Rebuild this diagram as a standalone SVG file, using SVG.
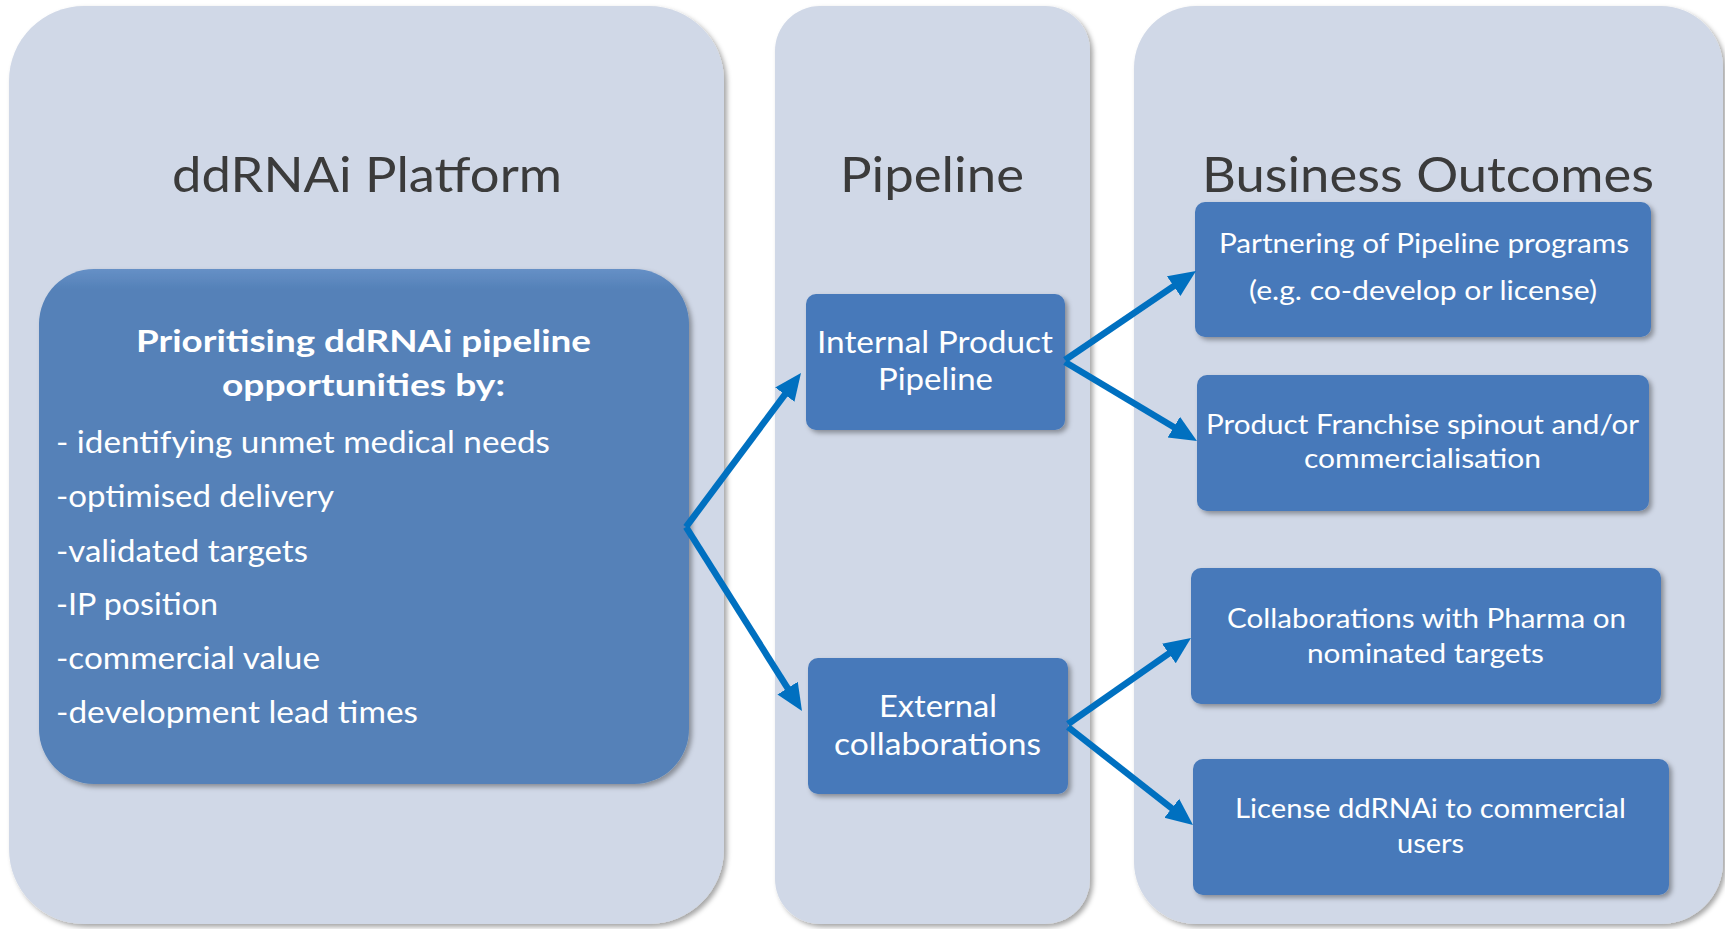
<svg xmlns="http://www.w3.org/2000/svg" width="1725" height="929" viewBox="0 0 1725 929">
<style>
.panel{fill:#D0D8E7;}
.box{fill:#4679BA;}
.title{font-family:Lato,"Liberation Sans",sans-serif;font-size:49px;fill:#3B3B3B;}
.bt{font-family:Lato,"Liberation Sans",sans-serif;font-size:31px;font-weight:bold;fill:#FFFFFF;}
.li{font-family:Lato,"Liberation Sans",sans-serif;font-size:30px;fill:#FFFFFF;}
.mt{font-family:Lato,"Liberation Sans",sans-serif;font-size:30px;fill:#FFFFFF;}
.ot{font-family:Lato,"Liberation Sans",sans-serif;font-size:27px;fill:#FFFFFF;}
.conn line{stroke:#0070C0;stroke-width:6.5;fill:none;marker-end:url(#ah);}
</style>
<defs>
<filter id="sh" x="-5%" y="-5%" width="115%" height="115%">
<feDropShadow dx="3" dy="3" stdDeviation="2.5" flood-color="#000" flood-opacity="0.35"/>
</filter>
<linearGradient id="bg" x1="0" y1="0" x2="0" y2="1">
<stop offset="0" stop-color="#6690C6"/>
<stop offset="0.04" stop-color="#5481B8"/>
<stop offset="1" stop-color="#5481B8"/>
</linearGradient>
<marker id="ah" markerUnits="userSpaceOnUse" markerWidth="28" markerHeight="26" refX="12" refY="12" orient="auto" viewBox="0 0 28 24">
<path d="M0,0 L27,12 L0,24 z" fill="#0070C0"/>
</marker>
</defs>
<rect width="1725" height="929" fill="#FFFFFF"/>

<g id="panel-platform">
<rect class="panel" x="9" y="6" width="715" height="918" rx="75" ry="75" filter="url(#sh)"/>
<text class="title" x="172" y="192" textLength="390" lengthAdjust="spacingAndGlyphs">ddRNAi Platform</text>
</g>
<g id="panel-pipeline">
<rect class="panel" x="775" y="6" width="315" height="918" rx="45" ry="45" filter="url(#sh)"/>
<text class="title" x="840" y="192" textLength="184" lengthAdjust="spacingAndGlyphs">Pipeline</text>
</g>
<g id="panel-outcomes">
<rect class="panel" x="1134" y="6" width="589" height="918" rx="62" ry="62" filter="url(#sh)"/>
<text class="title" x="1202" y="192" textLength="452" lengthAdjust="spacingAndGlyphs">Business Outcomes</text>
</g>

<g id="node-platform">
<rect x="39" y="269" width="650" height="515" rx="55" ry="55" fill="url(#bg)" filter="url(#sh)"/>
<text class="bt" x="136" y="352" textLength="455" lengthAdjust="spacingAndGlyphs">Prioritising ddRNAi pipeline</text>
<text class="bt" x="222" y="396" textLength="283" lengthAdjust="spacingAndGlyphs">opportunities by:</text>
<text class="li" x="56" y="453" textLength="494" lengthAdjust="spacingAndGlyphs">- identifying unmet medical needs</text>
<text class="li" x="56" y="507" textLength="278" lengthAdjust="spacingAndGlyphs">-optimised delivery</text>
<text class="li" x="56" y="562" textLength="252" lengthAdjust="spacingAndGlyphs">-validated targets</text>
<text class="li" x="56" y="615" textLength="162" lengthAdjust="spacingAndGlyphs">-IP position</text>
<text class="li" x="56" y="669" textLength="264" lengthAdjust="spacingAndGlyphs">-commercial value</text>
<text class="li" x="56" y="723" textLength="362" lengthAdjust="spacingAndGlyphs">-development lead times</text>
</g>

<g id="node-internal">
<rect class="box" x="806" y="294" width="259" height="136" rx="10" ry="10" filter="url(#sh)"/>
<text class="mt" x="817" y="353" textLength="236" lengthAdjust="spacingAndGlyphs">Internal Product</text>
<text class="mt" x="878" y="390" textLength="115" lengthAdjust="spacingAndGlyphs">Pipeline</text>
</g>
<g id="node-external">
<rect class="box" x="808" y="658" width="260" height="136" rx="10" ry="10" filter="url(#sh)"/>
<text class="mt" x="879" y="717" textLength="118" lengthAdjust="spacingAndGlyphs">External</text>
<text class="mt" x="834" y="755" textLength="207" lengthAdjust="spacingAndGlyphs">collaborations</text>
</g>

<g id="node-partnering">
<rect class="box" x="1195" y="202" width="456" height="135" rx="10" ry="10" filter="url(#sh)"/>
<text class="ot" x="1219" y="253" textLength="410" lengthAdjust="spacingAndGlyphs">Partnering of Pipeline programs</text>
<text class="ot" x="1249" y="300" textLength="348" lengthAdjust="spacingAndGlyphs">(e.g. co-develop or license)</text>
</g>
<g id="node-franchise">
<rect class="box" x="1197" y="375" width="452" height="136" rx="10" ry="10" filter="url(#sh)"/>
<text class="ot" x="1206" y="434" textLength="433" lengthAdjust="spacingAndGlyphs">Product Franchise spinout and/or</text>
<text class="ot" x="1304" y="468" textLength="237" lengthAdjust="spacingAndGlyphs">commercialisation</text>
</g>
<g id="node-collab">
<rect class="box" x="1191" y="568" width="470" height="136" rx="10" ry="10" filter="url(#sh)"/>
<text class="ot" x="1227" y="628" textLength="399" lengthAdjust="spacingAndGlyphs">Collaborations with Pharma on</text>
<text class="ot" x="1307" y="663" textLength="237" lengthAdjust="spacingAndGlyphs">nominated targets</text>
</g>
<g id="node-license">
<rect class="box" x="1193" y="759" width="476" height="136" rx="10" ry="10" filter="url(#sh)"/>
<text class="ot" x="1235" y="818" textLength="391" lengthAdjust="spacingAndGlyphs">License ddRNAi to commercial</text>
<text class="ot" x="1397" y="853" textLength="67" lengthAdjust="spacingAndGlyphs">users</text>
</g>

<g id="connectors" class="conn">
<line x1="686" y1="527" x2="792" y2="385"/>
<line x1="686" y1="527" x2="794" y2="698.3"/>
<line x1="1065" y1="360" x2="1183.6" y2="279.4"/>
<line x1="1065" y1="362" x2="1184.1" y2="433.3"/>
<line x1="1068" y1="724" x2="1178.7" y2="646.6"/>
<line x1="1068" y1="727" x2="1181.2" y2="815.7"/>
</g>
</svg>
